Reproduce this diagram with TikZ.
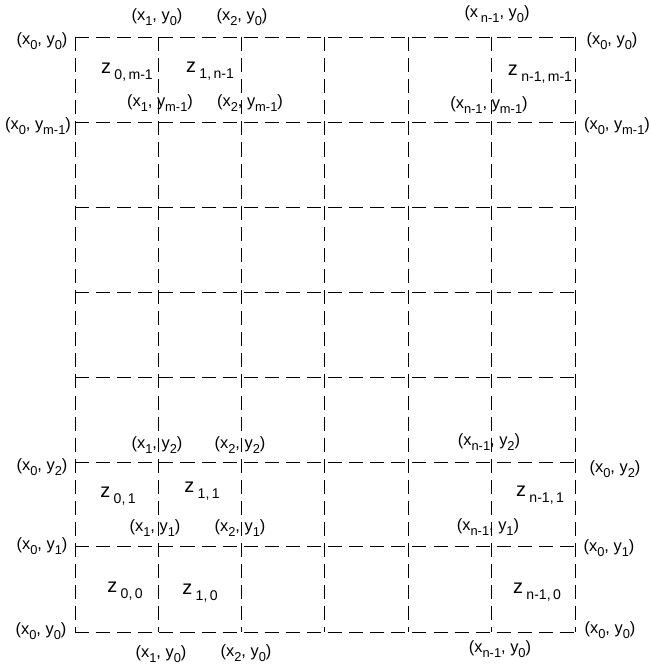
\documentclass[tikz,border=0pt]{standalone}
\usepackage{fontspec}
\setmainfont{Liberation Sans}
\newcommand{\lo}[1]{\raisebox{-0.5ex}{\fontsize{11}{12}\selectfont #1}}
\newcommand{\zlo}[1]{\raisebox{-0.6ex}{\fontsize{12}{13}\selectfont #1}}
\newcommand{\xy}[2]{(x\lo{#1}, y\lo{#2})}
\newcommand{\zc}[2]{z\,\zlo{#1,\,#2}}
\tikzset{
  gridline/.style={dash pattern=on 12pt off 6pt, line width=0.7pt},
  coord/.style={font=\fontsize{14}{15}\selectfont, inner sep=0pt},
  cell/.style={font=\fontsize{17}{18}\selectfont, inner sep=0pt},
}
\begin{document}
\begin{tikzpicture}[x=0.03cm, y=-0.03cm]
  \useasboundingbox (0,0) rectangle (651,666);

  % grid
  \draw[gridline] (75,37) -- (575,37);
  \draw[gridline] (75,122) -- (575,122);
  \draw[gridline] (75,207) -- (575,207);
  \draw[gridline] (75,292) -- (575,292);
  \draw[gridline] (75,377) -- (575,377);
  \draw[gridline] (75,462) -- (575,462);
  \draw[gridline] (75,546) -- (575,546);
  \draw[gridline] (75,632) -- (575,632);
  \draw[gridline] (75,37) -- (75,632);
  \draw[gridline] (158,37) -- (158,632);
  \draw[gridline] (241,37) -- (241,632);
  \draw[gridline] (324,37) -- (324,632);
  \draw[gridline] (408,37) -- (408,632);
  \draw[gridline] (491,37) -- (491,632);
  \draw[gridline] (575,37) -- (575,632);

  % top row
  \node[coord] (t1) at (157,17) {\xy{1}{0}};
  \node[coord] (t2) at (242,17) {\xy{2}{0}};
  \node[coord] (tn) at (497,14) {(x\,\lo{n-1}, y\lo{0})};
  \node[coord] (l0top) at (42,41) {\xy{0}{0}};
  \node[coord] (r0top) at (612,41) {\xy{0}{0}};
  \node[cell] (zom) at (127,72) {\zc{0}{m-1}};
  \node[cell] (z1n) at (210,71) {\zc{1}{n-1}};
  \node[cell] (znm) at (540,74) {\zc{n-1}{m-1}};
  \node[coord] (x1m) at (160,103) {\xy{1}{m-1}};
  \node[coord] (x2m) at (250,103) {\xy{2}{m-1}};
  \node[coord] (xnm) at (489,105) {(x\lo{n-1}, y\lo{m-1})};
  \node[coord] (l0m) at (38,126) {\xy{0}{m-1}};
  \node[coord] (r0m) at (617,126) {\xy{0}{m-1}};

  % bottom rows
  \node[coord] (x12) at (157,445) {\xy{1}{2}};
  \node[coord] (x22) at (240,445) {\xy{2}{2}};
  \node[coord] (xn2) at (489,442) {(x\lo{n-1}, y\lo{2})};
  \node[coord] (l02) at (42,467) {\xy{0}{2}};
  \node[coord] (r02) at (615,469) {\xy{0}{2}};
  \node[cell] (z01) at (118,496) {\zc{0}{1}};
  \node[cell] (z11) at (202,491) {\zc{1}{1}};
  \node[cell] (zn1) at (540,495) {\zc{n-1}{1}};
  \node[coord] (x11) at (155,528) {\xy{1}{1}};
  \node[coord] (x21) at (240,528) {\xy{2}{1}};
  \node[coord] (xn1) at (488,527) {(x\lo{n-1}, y\lo{1})};
  \node[coord] (l01) at (42,546) {\xy{0}{1}};
  \node[coord] (r01) at (609,548) {\xy{0}{1}};
  \node[cell] (z00) at (125,591) {\zc{0}{0}};
  \node[cell] (z10) at (200,593) {\zc{1}{0}};
  \node[cell] (zn0) at (537,592) {\zc{n-1}{0}};
  \node[coord] (l00) at (41,631) {\xy{0}{0}};
  \node[coord] (r00) at (610,630) {\xy{0}{0}};
  \node[coord] (b1) at (161,654) {\xy{1}{0}};
  \node[coord] (b2) at (246,653) {\xy{2}{0}};
  \node[coord] (bn) at (500,649) {(x\lo{n-1}, y\lo{0})};
\end{tikzpicture}
\end{document}
